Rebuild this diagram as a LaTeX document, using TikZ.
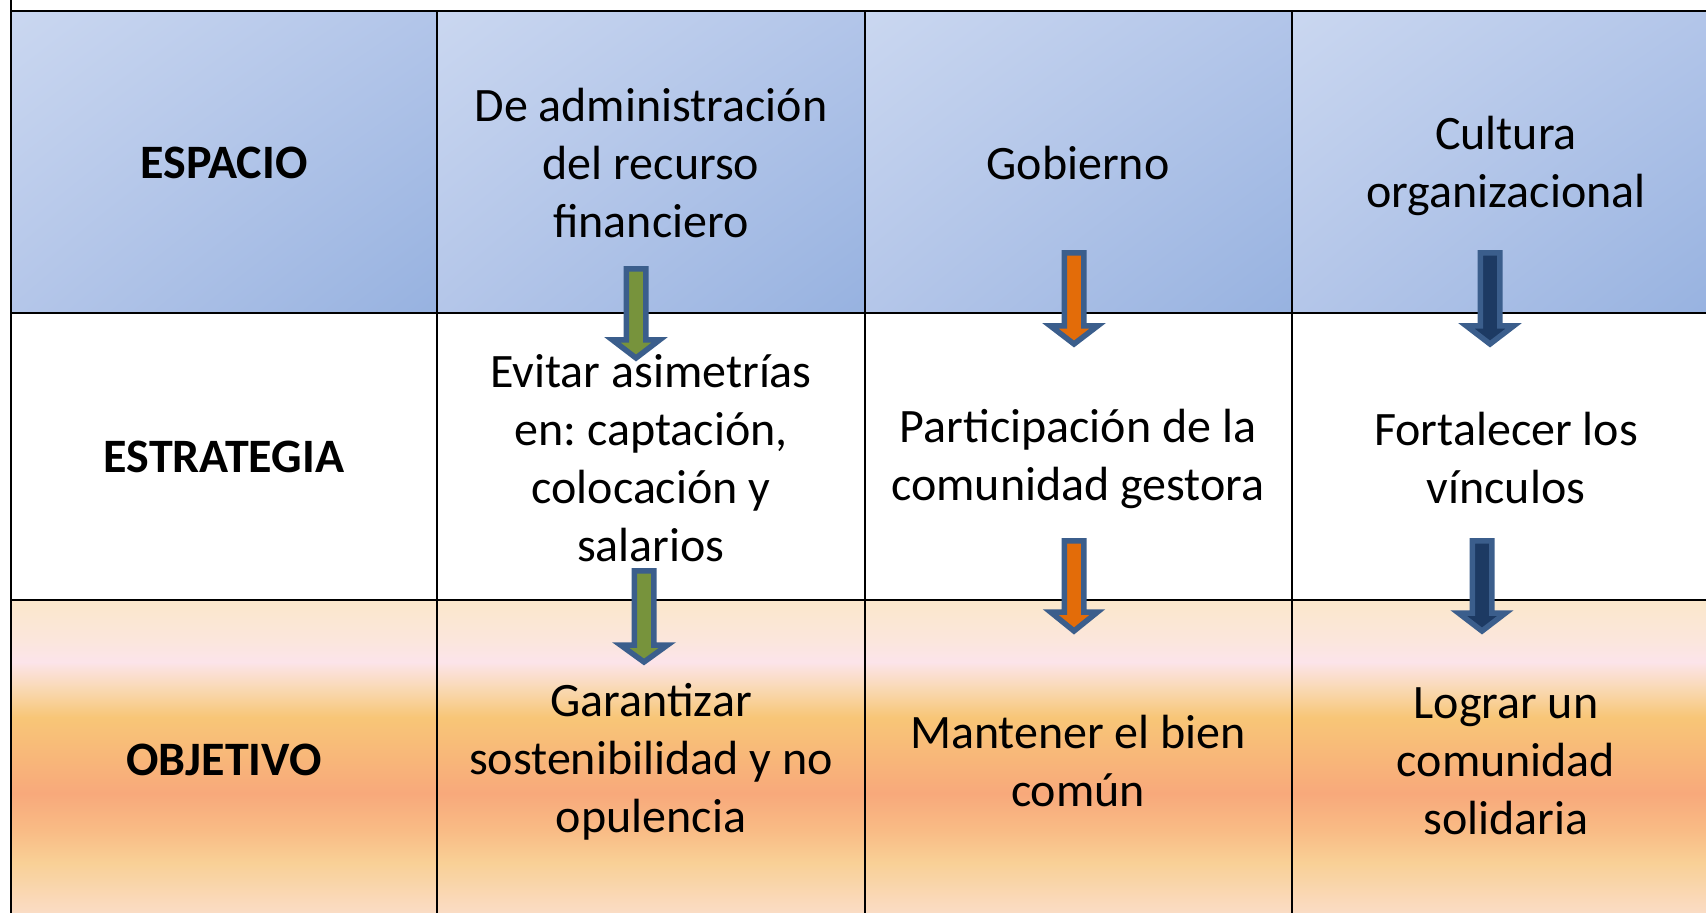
\documentclass[tikz,border=0pt]{standalone}
\usepackage{fontspec}
\setmainfont{Carlito}
\frenchspacing
\usetikzlibrary{shadings}
\definecolor{o0}{HTML}{FBDFCA}
\definecolor{o1}{HTML}{FADCC5}
\definecolor{o2}{HTML}{F9D096}
\definecolor{o3}{HTML}{F9BB85}
\definecolor{o4}{HTML}{F8A97B}
\definecolor{o5}{HTML}{F8C677}
\definecolor{o6}{HTML}{F9D8B0}
\definecolor{o7}{HTML}{FCE4EA}
\definecolor{o8}{HTML}{FBE6DC}
\definecolor{o9}{HTML}{FBE8CB}
\definecolor{bUL}{HTML}{CAD7F0}
\definecolor{bUR}{HTML}{B2C5E9}
\definecolor{bLL}{HTML}{B4C6E9}
\definecolor{bLR}{HTML}{97B2E0}
\definecolor{arrborder}{HTML}{3B5E8C}
\definecolor{arrgreen}{HTML}{77933C}
\definecolor{arrorange}{HTML}{E36C09}
\definecolor{arrnavy}{HTML}{1D3A63}
\pgfdeclareverticalshading{objshade}{100bp}{color(0bp)=(o0); color(25bp)=(o0); color(26.4bp)=(o1); color(34.2bp)=(o2); color(39.3bp)=(o3); color(45bp)=(o4); color(56.8bp)=(o5); color(61bp)=(o6); color(65.4bp)=(o7); color(68.8bp)=(o8); color(75bp)=(o9); color(100bp)=(o9)}
\newcommand\myblockarrow[5]{%
  \draw[arrowstyle, fill=#5] (#1-9.75,#2) -- (#1+9.75,#2) -- (#1+9.75,#3) -- (#1+23.5,#3) -- (#1,#4) -- (#1-23.5,#3) -- (#1-9.75,#3) -- cycle;}
\begin{document}
\begin{tikzpicture}[x=0.5pt,y=-0.5pt,
  tablefont/.style={font=\fontsize{24}{29}\selectfont, align=center, inner sep=0pt},
  rowlabel/.style={tablefont, font=\fontsize{24}{29}\selectfont\bfseries},
  celltext/.style={tablefont},
  bluecell/.style={upper left=bUL, upper right=bUR, lower left=bLL, lower right=bLR},
  orangecell/.style={shading=objshade},
  gridline/.style={line width=1.3pt, black},
  arrowstyle/.style={draw=arrborder, line width=2.75pt, line join=miter}]
\useasboundingbox (0,0) rectangle (1706,913);
\begin{scope}
\clip (0,0) rectangle (1706,913);
% top row cells
\shade[bluecell] (11,11) rectangle (437,313);
\shade[bluecell] (437,11) rectangle (865,313);
\shade[bluecell] (865,11) rectangle (1292,313);
\shade[bluecell] (1292,11) rectangle (1719,313);
% bottom row cells
\shade[orangecell] (11,600) rectangle (437,922);
\shade[orangecell] (437,600) rectangle (865,922);
\shade[orangecell] (865,600) rectangle (1292,922);
\shade[orangecell] (1292,600) rectangle (1719,922);
% grid
\draw[gridline] (11,0) -- (11,930);
\draw[gridline] (437,11) -- (437,930);
\draw[gridline] (865,11) -- (865,930);
\draw[gridline] (1292,11) -- (1292,930);
\draw[gridline] (11,11) -- (1720,11);
\draw[gridline] (11,313) -- (1720,313);
\draw[gridline] (11,600) -- (1720,600);
\end{scope}
% row labels
\node[rowlabel] (espacio) at (224,163) {ESPACIO};
\node[rowlabel] (estrategia) at (224,457) {ESTRATEGIA};
\node[rowlabel] (objetivo) at (224,760) {OBJETIVO};
% column 2
\node[celltext] (e1) at (651,163) {De administración\\del recurso\\financiero};
\node[celltext] (s1) at (651,458) {Evitar asimetrías\\en: captación,\\colocación y\\salarios};
\node[celltext] (o1n) at (651,762) {Garantizar\\sostenibilidad y no\\opulencia};
% column 3
\node[celltext] (e2) at (1078,163) {Gobierno};
\node[celltext] (s2) at (1078,459) {Participación de la\\comunidad gestora};
\node[celltext] (o2n) at (1078,761) {Mantener el bien\\común};
% column 4
\node[celltext] (e3) at (1506,166) {Cultura\\organizacional};
\node[celltext] (s3) at (1506,458) {Fortalecer los\\vínculos};
\node[celltext] (o3n) at (1506,761) {Lograr un\\comunidad\\solidaria};
% arrows
\myblockarrow{636}{269}{340}{358}{arrgreen}
\myblockarrow{644}{571}{645}{662}{arrgreen}
\myblockarrow{1074}{253}{326}{344}{arrorange}
\myblockarrow{1074}{541}{612}{631}{arrorange}
\myblockarrow{1490}{253}{326}{344}{arrnavy}
\myblockarrow{1482}{541}{613}{631}{arrnavy}
\end{tikzpicture}
\end{document}
